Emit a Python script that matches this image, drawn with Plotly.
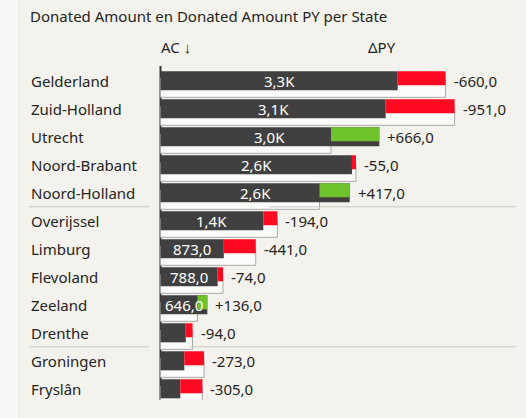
import plotly.graph_objects as go

# ---- data ----
states = ["Gelderland", "Zuid-Holland", "Utrecht", "Noord-Brabant", "Noord-Holland",
          "Overijssel", "Limburg", "Flevoland", "Zeeland", "Drenthe", "Groningen", "Fryslân"]
ac = [3272, 3106, 3018, 2641, 2610, 1418, 873, 788, 646, 348, 328, 273]
delta_py = [-660, -951, 666, -55, 417, -194, -441, -74, 136, -94, -273, -305]
py = [a - d for a, d in zip(ac, delta_py)]
group_breaks = [4.5, 9.5]  # separators after Noord-Holland and Drenthe

title = "Donated Amount en Donated Amount PY per State"
FONT = "Noto Sans, Segoe UI, sans-serif"
TXT = "#252423"
BG = "#f3f2ec"
RED = "#ff0a23"
GREEN = "#6fc32d"
FS = 15

W, H = 526, 418
L, R, T, B = 150, 0, 66, 18
plot_w = W - L - R
plot_h = H - T - B
k = 0.0725              # px per unit
xmin = -10.5 / k
xmax = xmin + plot_w / k

def fmt_ac(v):
    if v >= 1000:
        return f"{v/1000:.1f}K".replace(".", ",")
    return f"{v:.1f}".replace(".", ",")

def fmt_d(v):
    return f"{v:+.1f}".replace(".", ",")

def px_x(p):
    return (p - L) / plot_w

def px_y(p):
    return (H - B - p) / plot_h

n = len(states)
rows = list(range(n))

fig = go.Figure()

# previous year bar (behind, shifted down)
fig.add_trace(go.Bar(
    orientation="h", y=[i + 0.25 for i in rows], x=py, base=0, width=0.68,
    marker=dict(color="#fbfbf9", line=dict(color="#a9a9a9", width=1)),
    hoverinfo="skip", showlegend=False))

# actual bar
fig.add_trace(go.Bar(
    orientation="h", y=rows, x=ac, base=0, width=0.68,
    marker=dict(color="#404040", line=dict(width=0)),
    hoverinfo="skip", showlegend=False))

# variance bars
neg_i = [i for i in rows if delta_py[i] < 0]
pos_i = [i for i in rows if delta_py[i] >= 0]
fig.add_trace(go.Bar(
    orientation="h", y=[i - 0.09 for i in neg_i],
    x=[-delta_py[i] for i in neg_i], base=[ac[i] for i in neg_i], width=0.5,
    marker=dict(color=RED, line=dict(width=0)), hoverinfo="skip", showlegend=False))
fig.add_trace(go.Bar(
    orientation="h", y=[i - 0.09 for i in pos_i],
    x=[delta_py[i] for i in pos_i], base=[py[i] for i in pos_i], width=0.5,
    marker=dict(color=GREEN, line=dict(width=0)), hoverinfo="skip", showlegend=False))

ann = []
for i in rows:
    ann.append(dict(xref="paper", yref="y", x=px_x(29), y=i, text=states[i],
                    xanchor="left", yanchor="middle", showarrow=False,
                    font=dict(family=FONT, size=FS, color=TXT)))
    if ac[i] >= 500:
        ann.append(dict(xref="x", yref="y", x=ac[i] / 2, y=i, text=fmt_ac(ac[i]),
                        xanchor="center", yanchor="middle", showarrow=False,
                        font=dict(family=FONT, size=FS, color="white")))
    ann.append(dict(xref="x", yref="y", x=max(ac[i], py[i]), y=i, text=fmt_d(delta_py[i]),
                    xanchor="left", yanchor="middle", xshift=6, showarrow=False,
                    font=dict(family=FONT, size=FS, color=TXT)))

ann.append(dict(xref="paper", yref="paper", x=px_x(159), y=px_y(47), text="AC ↓",
                xanchor="left", yanchor="middle", showarrow=False,
                font=dict(family=FONT, size=FS, color=TXT)))
ann.append(dict(xref="paper", yref="paper", x=px_x(382), y=px_y(47), text="ΔPY",
                xanchor="center", yanchor="middle", showarrow=False,
                font=dict(family=FONT, size=FS, color=TXT)))

shapes = [
    dict(type="rect", xref="paper", yref="paper", x0=px_x(0), x1=px_x(19),
         y0=px_y(H), y1=px_y(0), fillcolor="#f7f7f5", line=dict(width=0), layer="below"),
    dict(type="line", xref="paper", yref="paper", x0=px_x(19), x1=px_x(19),
         y0=px_y(H), y1=px_y(0), line=dict(color="#e6e5df", width=1), layer="below"),
    dict(type="line", xref="x", yref="paper", x0=0, x1=0, y0=0, y1=1,
         line=dict(color="#333333", width=2), layer="below"),
]
sep_starts = [270, 190]
for yb, xs in zip(group_breaks, sep_starts):
    shapes.append(dict(type="line", xref="paper", yref="y", x0=px_x(29), x1=px_x(149),
                       y0=yb, y1=yb, line=dict(color="#c9c7c1", width=1)))
    shapes.append(dict(type="line", xref="paper", yref="y", x0=px_x(xs), x1=px_x(516),
                       y0=yb, y1=yb, line=dict(color="#c9c7c1", width=1)))

row_top = (80.8 - T) / 28.0
fig.update_layout(
    width=W, height=H, barmode="overlay",
    margin=dict(l=L, r=R, t=T, b=B, pad=0),
    paper_bgcolor=BG, plot_bgcolor=BG,
    title=dict(text=title, x=30 / W, xanchor="left", xref="container",
               y=1 - 17 / H, yanchor="middle", yref="container",
               font=dict(family=FONT, size=FS, color=TXT)),
    xaxis=dict(range=[xmin, xmax], visible=False, fixedrange=True),
    yaxis=dict(range=[(n - 1) + (400 - 388.8) / 28.0, -row_top], visible=False, fixedrange=True),
    annotations=ann, shapes=shapes, showlegend=False,
)

fig.write_html("out.html", config={"displayModeBar": False},
               post_script="document.body.style.margin='0';document.body.style.background='#f3f2ec';")
